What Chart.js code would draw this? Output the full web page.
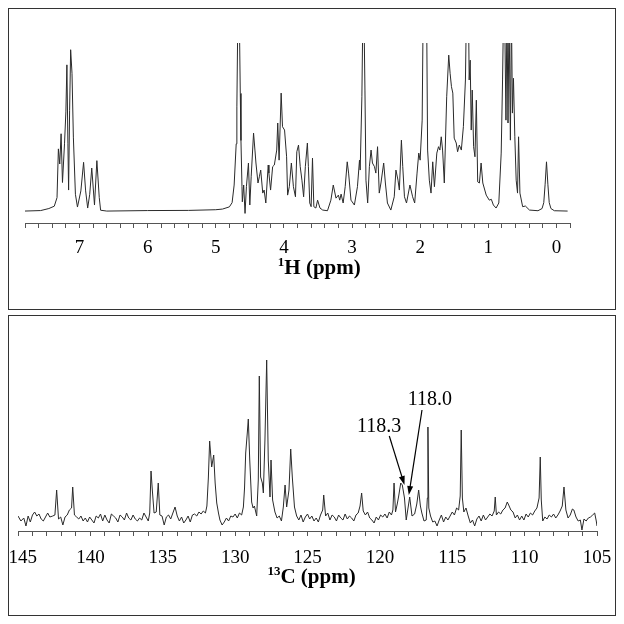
<!DOCTYPE html>
<html>
<head>
<meta charset="utf-8">
<script src="https://cdn.jsdelivr.net/npm/chart.js@4.4.1/dist/chart.umd.min.js"></script>
<style>
  html, body { margin: 0; padding: 0; background: #fff; }
  body { width: 624px; height: 624px; position: relative; overflow: hidden; }
  .panel { position: absolute; border: 1px solid #333; box-sizing: border-box; }
  #box1 { left: 8px; top: 8px; width: 608px; height: 302px; }
  #box2 { left: 8px; top: 315px; width: 608px; height: 301px; }
  canvas { position: absolute; left: 0; }
  #hChart { top: 0; }
  #cChart { top: 312px; }
</style>
</head>
<body>
<div class="panel" id="box1"></div>
<div class="panel" id="box2"></div>
<canvas id="hChart" width="624" height="312"></canvas>
<canvas id="cChart" width="624" height="312"></canvas>
<script>
// 1H spectrum (ppm / intensity, 100 = top of frame, higher peaks are cut off)
const hPpm = [
  7.81, 7.57, 7.45, 7.37, 7.33, 7.31, 7.29, 7.27, 7.25, 7.22, 7.20, 7.185, 7.17, 7.16, 7.145, 7.13, 7.11, 7.09, 7.06, 7.03,
  6.98, 6.94, 6.91, 6.88, 6.85, 6.82, 6.78, 6.745, 6.71, 6.69, 6.6, 6.0, 5.4, 5.0, 4.9, 4.8, 4.76, 4.73, 4.70, 4.69,
  4.675, 4.655, 4.64, 4.63, 4.615, 4.61, 4.59, 4.57, 4.55, 4.52, 4.50, 4.48, 4.445, 4.425, 4.41, 4.38, 4.36, 4.34, 4.31, 4.29,
  4.265, 4.23, 4.22, 4.195, 4.165, 4.14, 4.105, 4.09, 4.07, 4.04, 4.02, 3.99, 3.96, 3.945, 3.92, 3.89, 3.86, 3.83, 3.81, 3.785,
  3.76, 3.735, 3.71, 3.685, 3.655, 3.64, 3.62, 3.60, 3.58, 3.56, 3.53, 3.505, 3.47, 3.43, 3.36, 3.31, 3.275, 3.235, 3.20, 3.18,
  3.16, 3.13, 3.10, 3.07, 3.05, 3.015, 2.965, 2.92, 2.89, 2.88, 2.855, 2.84, 2.825, 2.81, 2.795, 2.77, 2.745, 2.72, 2.70, 2.67,
  2.65, 2.625, 2.60, 2.575, 2.535, 2.51, 2.48, 2.43, 2.38, 2.355, 2.325, 2.305, 2.275, 2.255, 2.23, 2.20, 2.15, 2.11, 2.08, 2.045,
  2.02, 2.00, 1.97, 1.955, 1.93, 1.905, 1.89, 1.865, 1.84, 1.815, 1.79, 1.755, 1.73, 1.71, 1.69, 1.67, 1.645, 1.61, 1.58, 1.56,
  1.54, 1.52, 1.50, 1.47, 1.45, 1.425, 1.395, 1.365, 1.335, 1.32, 1.30, 1.29, 1.28, 1.265, 1.25, 1.235, 1.215, 1.195, 1.175, 1.155,
  1.13, 1.105, 1.08, 1.03, 0.985, 0.955, 0.925, 0.885, 0.845, 0.81, 0.79, 0.775, 0.76, 0.74, 0.725, 0.71, 0.695, 0.675, 0.66, 0.645,
  0.63, 0.61, 0.59, 0.57, 0.555, 0.535, 0.495, 0.455, 0.395, 0.27, 0.21, 0.185, 0.165, 0.145, 0.125, 0.105, 0.08, 0.03, -0.165
]
const hInt = [
  0, 0.3, 1.5, 2.9, 8, 37, 28, 46, 17, 40, 59, 87, 40, 12.5, 60, 96, 82, 44, 10, 2.4,
  12, 29, 12, 1.8, 10, 25.6, 3.6, 30, 8, 0.5, 0, 0.3, 0.4, 0.8, 1.2, 2.5, 5, 15.5, 40, 62,
  120, 120, 70, 42, 14.5, 5.5, 15.5, -1.4, 14.5, 28.6, 3.6, 20.4, 46.4, 36.3, 28.6, 16.7, 20.4, 24.4, 10.7, 12.5,
  4.8, 27.4, 22.6, 12.5, 26.4, 27.4, 36.3, 52.4, 30.3, 70.2, 50.2, 48.2, 32.3, 9.5, 14.5, 28.6, 14.5, 8.5, 35.3, 39.3,
  26.4, 18.4, 8.5, 26.4, 40.5, 26.4, 4.8, 2.6, 31.5, 2.6, 1.8, 6.5, 1.8, 0.6, 0.2, 6.5, 15.5, 7.7, 9.5, 6.5,
  10.1, 4.8, 14.5, 29.3, 22.6, 6.5, 3.6, 14.5, 30.3, 24.4, 68, 120, 120, 72, 18.4, 4.8, 26.4, 36.3, 28.6, 26.4,
  22.6, 38.3, 10.7, 16.7, 28.6, 16.7, 4.8, 0.6, 8.5, 24.4, 18.4, 12.5, 42.2, 26.4, 8.5, 4.8, 15.5, 8.5, 4.8, 22.6,
  34.5, 30.3, 54.1, 120, 120, 120, 36.3, 18.4, 10.7, 29.3, 14.5, 34.5, 38.3, 36.3, 44.2, 36.3, 16.7, 68, 92.8, 82,
  74, 70.2, 43.4, 40.5, 35.3, 39.3, 36.3, 50.2, 78, 120, 120, 120, 78, 89.8, 48.2, 72, 38.3, 32.3, 66, 17.4,
  16.7, 28.6, 16.7, 9.5, 6.5, 7, 3.6, 1.8, 4.8, 34.5, 78, 120, 120, 54.1, 120, 52.4, 120, 42.2, 120, 58.3,
  79, 44.2, 18.4, 10.7, 44.2, 10.7, 2.6, 3, 0.6, 0.2, 1.5, 5, 16, 29.3, 16, 5, 1.5, 0.2, 0
]
const hTickLabels = [7, 6, 5, 4, 3, 2, 1, 0]

// 13C spectrum (ppm / intensity)
const cPpm = [
  145.0, 144.8, 144.6, 144.45, 144.3, 144.15, 144.0, 143.85, 143.7, 143.55, 143.4, 143.25, 143.1, 142.95, 142.8, 142.6, 142.45, 142.33, 142.2, 142.05,
  141.9, 141.75, 141.6, 141.45, 141.3, 141.22, 141.1, 140.95, 140.8, 140.65, 140.5, 140.35, 140.2, 140.05, 139.9, 139.75, 139.6, 139.45, 139.3, 139.15,
  139.0, 138.85, 138.7, 138.55, 138.4, 138.25, 138.1, 137.95, 137.8, 137.65, 137.5, 137.35, 137.2, 137.05, 136.9, 136.75, 136.6, 136.45, 136.3, 136.15,
  136.0, 135.9, 135.81, 135.72, 135.6, 135.45, 135.31, 135.2, 135.05, 134.9, 134.75, 134.6, 134.45, 134.3, 134.15, 134.0, 133.85, 133.7, 133.55, 133.4,
  133.25, 133.1, 132.95, 132.8, 132.65, 132.5, 132.35, 132.2, 132.05, 131.95, 131.85, 131.76, 131.62, 131.48, 131.38, 131.27, 131.15, 131.05, 130.9, 130.75,
  130.6, 130.45, 130.3, 130.15, 130.0, 129.85, 129.7, 129.55, 129.43, 129.35, 129.27, 129.16, 129.09, 128.99, 128.86, 128.76, 128.67, 128.51, 128.4, 128.33,
  128.24, 128.12, 128.05, 127.94, 127.82, 127.71, 127.59, 127.52, 127.41, 127.25, 127.1, 126.95, 126.8, 126.67, 126.55, 126.44, 126.28, 126.16, 126.05, 125.9,
  125.75, 125.6, 125.45, 125.3, 125.15, 125.0, 124.85, 124.7, 124.55, 124.4, 124.25, 124.1, 123.95, 123.88, 123.75, 123.6, 123.45, 123.3, 123.15, 123.0,
  122.85, 122.7, 122.55, 122.4, 122.25, 122.1, 121.95, 121.8, 121.65, 121.5, 121.37, 121.26, 121.15, 121.0, 120.85, 120.7, 120.55, 120.4, 120.25, 120.1,
  119.95, 119.8, 119.65, 119.5, 119.35, 119.2, 119.1, 119.02, 118.92, 118.8, 118.7, 118.56, 118.45, 118.3, 118.18, 117.94, 117.78, 117.6, 117.45, 117.32,
  117.2, 117.1, 116.95, 116.8, 116.72, 116.68, 116.62, 116.5, 116.35, 116.2, 116.05, 115.9, 115.75, 115.6, 115.45, 115.3, 115.15, 115.0, 114.85, 114.7,
  114.56, 114.45, 114.38, 114.3, 114.2, 114.05, 113.9, 113.75, 113.6, 113.45, 113.3, 113.15, 113.0, 112.85, 112.7, 112.55, 112.4, 112.25, 112.1, 112.03,
  111.95, 111.8, 111.65, 111.5, 111.35, 111.2, 111.1, 110.95, 110.8, 110.65, 110.5, 110.35, 110.2, 110.05, 109.9, 109.75, 109.6, 109.45, 109.3, 109.15,
  109.0, 108.92, 108.85, 108.75, 108.6, 108.45, 108.3, 108.15, 108.0, 107.85, 107.7, 107.55, 107.4, 107.28, 107.15, 107.0, 106.85, 106.7, 106.6, 106.45,
  106.3, 106.15, 106.04, 105.9, 105.75, 105.6, 105.45, 105.3, 105.16, 105.05, 105.0
]
const cInt = [
  2, -3, 0, -8, 2, -4, 3, 6, 2, 4, -1, -3, 1, 5, 1, 2, 3, 28, -1, 1,
  -7, 1, 3, 8, 10, 31, 3, 1, -1, 2, -3, 0, -4, 1, -2, -5, 2, 0, 4, -3,
  3, -2, -5, 4, 2, 0, -4, 3, 1, -2, 5, 0, -2, 3, -1, -3, 0, -2, 5, 1,
  -3, 5, 47, 28, 5, 6, 35, 3, 2, -7, 1, 3, -1, 5, 11, 2, -3, 1, -5, -2,
  2, -4, 3, 4, 2, 6, 4, 7, 5, 12, 40, 77, 51, 63, 35, 15, 5, -2, -7, -4,
  0, -3, 2, 1, 4, 0, 5, 3, 11, 30, 65, 85, 99, 58, 16, 10, 12, 2, 38, 142,
  41, 35, 25, 78, 158, 58, 21, 58, 18, 6, 0, 2, -3, 11, 33, 11, 28, 69, 41, 11,
  2, -2, 3, -4, 1, 4, -1, 2, -3, 0, -4, 3, 8, 23, 2, 5, -2, 3, 1, -3,
  3, 0, -2, 4, -1, 2, 0, -3, 3, 5, 12, 25, 7, 3, 6, 0, -2, -5, 1, -2,
  3, 1, 4, 0, 6, 3, 8, 35, 6, 14, 22, 35, 33, 20, -2, 21, 2, 4, 14, 28,
  12, 5, -3, -2, 20, 91, 10, 2, -4, -3, -8, -2, 3, -4, 1, -2, 2, 6, 3, 10,
  8, 22, 88, 20, 6, 10, 2, -5, -2, -8, -1, 2, -3, 3, -2, 1, 4, 2, 7, 21,
  3, 6, 4, 8, 10, 16, 13, 8, 6, 0, 3, -2, 2, -2, 4, 1, 5, 3, 7, 10,
  20, 61, 18, -3, 1, -1, 3, 1, 4, 0, 3, 7, 12, 31, 8, 0, 3, 9, 8, 1,
  -3, -2, -12, -1, -3, 0, 1, 3, 5, -3, -8
]
const cTickLabels = [145, 140, 135, 130, 125, 120, 115, 110, 105]

// marked 13C peaks
const cMarkLabels = ['118.3', '118.0']
const cMarkPpm = [118.3, 118.0]
const cMarkInt = [33, 23]

const serif = "'Liberation Serif', 'Times New Roman', serif"

function tickList(from, to, step) {
	const out = []
	for (let v = from; v >= to - 1e-9; v -= step) out.push({ value: Math.round(v * 10) / 10 })
	return out
}

// axis titles + arrow labels, placed through the x/y scales
const notesPlugin = {
	id: 'notes',
	afterDraw(chart, args, opts) {
		const { ctx, chartArea } = chart
		const x = chart.scales.x
		const y = chart.scales.y
		ctx.save()
		ctx.fillStyle = '#000'
		ctx.strokeStyle = '#000'

		// axis title with superscript
		const t = opts.title
		ctx.textBaseline = 'middle'
		ctx.font = 'bold 13px ' + serif
		const supW = ctx.measureText(t.sup).width
		ctx.font = 'bold 21px ' + serif
		const mainW = ctx.measureText(t.main).width
		const cx = x.getPixelForValue(t.at)
		const ty = chartArea.bottom + t.dy
		const left = cx - (supW + mainW) / 2
		ctx.textAlign = 'left'
		ctx.fillText(t.main, left + supW, ty)
		ctx.font = 'bold 13px ' + serif
		ctx.fillText(t.sup, left, ty - 6)

		// arrows
		ctx.font = '20px ' + serif
		ctx.textAlign = 'center'
		;(opts.marks || []).forEach(m => {
			ctx.fillText(m.text, x.getPixelForValue(m.textPpm), y.getPixelForValue(m.textInt))
			const x0 = x.getPixelForValue(m.fromPpm)
			const y0 = y.getPixelForValue(m.fromInt)
			const x1 = x.getPixelForValue(m.ppm)
			const y1 = y.getPixelForValue(m.int)
			const a = Math.atan2(y1 - y0, x1 - x0)
			ctx.lineWidth = 1.2
			ctx.beginPath()
			ctx.moveTo(x0, y0)
			ctx.lineTo(x1 - 7 * Math.cos(a), y1 - 7 * Math.sin(a))
			ctx.stroke()
			ctx.beginPath()
			ctx.moveTo(x1, y1)
			ctx.lineTo(x1 - 9 * Math.cos(a) + 3 * Math.sin(a), y1 - 9 * Math.sin(a) - 3 * Math.cos(a))
			ctx.lineTo(x1 - 9 * Math.cos(a) - 3 * Math.sin(a), y1 - 9 * Math.sin(a) + 3 * Math.cos(a))
			ctx.closePath()
			ctx.fill()
		})
		ctx.restore()
	},
}

function spectrum(canvasId, ppm, ints, cfg) {
	const ctx = document.getElementById(canvasId).getContext('2d')
	return new Chart(ctx, {
		type: 'line',
		data: {
			datasets: [
				{
					data: ppm.map((p, i) => ({ x: p, y: ints[i] })),
					borderColor: '#2a2a2a',
					borderWidth: 1,
					pointRadius: 0,
					tension: 0,
					clip: 0,
				},
			],
		},
		plugins: [notesPlugin],
		options: {
			responsive: false,
			animation: false,
			layout: { padding: cfg.padding },
			plugins: {
				legend: { display: false },
				tooltip: { enabled: false },
				notes: { title: cfg.title, marks: cfg.marks },
			},
			scales: {
				x: {
					type: 'linear',
					reverse: true,
					min: cfg.xMin,
					max: cfg.xMax,
					afterBuildTicks: scale => {
						scale.ticks = tickList(cfg.xMax, cfg.xMin, cfg.step)
					},
					afterFit: scale => {
						scale.height = cfg.axisHeight
						scale.paddingLeft = 0
						scale.paddingRight = 0
					},
					ticks: {
						autoSkip: false,
						maxRotation: 0,
						padding: cfg.labelPad,
						color: '#000',
						font: { family: serif, size: 19 },
						callback: value => {
							if (!cfg.labels.some(l => Math.abs(l - value) < 1e-6)) return ''
							// the end label sits a little inside the frame
							return value === cfg.xMax && cfg.nudgeFirst ? '\u00a0\u00a0' + value : String(value)
						},
					},
					grid: {
						drawOnChartArea: false,
						drawTicks: true,
						tickLength: 5,
						color: '#555',
					},
					border: { display: true, color: '#555', width: 1 },
				},
				y: {
					display: false,
					min: cfg.yMin,
					max: cfg.yMax,
				},
			},
		},
	})
}

spectrum('hChart', hPpm, hInt, {
	xMin: -0.2, xMax: 7.8, step: 0.2, labels: hTickLabels,
	yMin: -7.1, yMax: 100,
	padding: { left: 25, right: 54, top: 43, bottom: 0 },
	axisHeight: 89, labelPad: 9,
	title: { sup: '1', main: 'H (ppm)', at: 3.48, dy: 46 },
})

spectrum('cChart', cPpm, cInt, {
	xMin: 105, xMax: 145, step: 1, labels: cTickLabels, nudgeFirst: true,
	yMin: -13, yMax: 178,
	padding: { left: 18, right: 27, top: 28, bottom: 0 },
	axisHeight: 93, labelPad: 11,
	title: { sup: '13', main: 'C (ppm)', at: 124.72, dy: 47 },
	marks: [
		{ text: cMarkLabels[0], ppm: cMarkPpm[0], int: cMarkInt[0], textPpm: 120.06, textInt: 91, fromPpm: 119.35, fromInt: 82 },
		{ text: cMarkLabels[1], ppm: cMarkPpm[1], int: cMarkInt[1], textPpm: 116.54, textInt: 118, fromPpm: 117.09, fromInt: 108 },
	],
})
</script>
</body>
</html>
